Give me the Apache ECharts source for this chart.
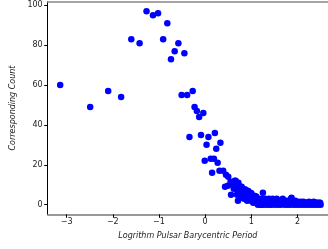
<!DOCTYPE html>
<html>
<head>
<meta charset="utf-8">
<script src="https://cdn.jsdelivr.net/npm/echarts@6/dist/echarts.min.js"></script>
<style>
  html, body { margin: 0; padding: 0; background: #fff; }
  #chart { width: 328px; height: 249px; }
</style>
</head>
<body>
<div id="chart"></div>
<script>
// log period (x) and corresponding count (y)
var logPeriod = [
  -3.14, -2.49, -2.10, -1.82, -1.60, -1.42, -1.27, -1.13, -1.02, -0.91,
  -0.82, -0.58, -0.66, -0.45, -0.74, -0.51, -0.39, -0.27, -0.23, -0.18,
  -0.04, -0.13, -0.34, -0.09, 0.07, 0.21, 0.03, 0.33, 0.24, -0.01,
  0.12, 0.19, 0.27, 0.15, 0.31, 0.39, 0.45, 0.50, 0.43, 0.49,
  0.55, 0.64, 0.72, 0.56, 0.71, 0.71, 0.69, 0.79, 0.86, 0.93,
  1.00, 1.08, 1.15,
  0.58, 0.62, 0.66, 0.68, 0.70, 0.74, 0.75, 0.77, 0.78, 0.80,
  0.81, 0.83, 0.84, 0.87, 0.88, 0.90, 0.91, 0.92, 0.94, 0.95,
  0.96, 0.98, 0.99, 1.01, 1.03, 1.04, 1.05, 1.07, 1.10, 1.11,
  1.12, 1.14, 1.17, 1.18, 1.20, 1.21, 1.23, 1.25, 1.25, 1.27,
  1.28, 1.30, 1.31, 1.33, 1.34, 1.36, 1.38, 1.39, 1.41, 1.43,
  1.44, 1.46, 1.48, 1.50, 1.51, 1.53, 1.55, 1.57, 1.58, 1.60,
  1.62, 1.64, 1.66, 1.68, 1.70, 1.72, 1.74, 1.76, 1.78, 1.80,
  1.82, 1.84, 1.86, 1.87, 1.89, 1.91, 1.93, 1.95, 1.97, 1.99,
  2.01, 2.03, 2.05, 2.07, 2.09, 2.11, 2.13, 2.15, 2.17, 2.19,
  2.21, 2.23, 2.25, 2.27, 2.29, 2.31, 2.33, 2.35, 2.37, 2.39,
  2.41, 2.43, 2.45, 2.47, 2.49, 2.50, 1.02, 1.09, 1.16, 1.22
];
var counts = [
  60, 49, 57, 54, 83, 81, 97, 95, 96, 83,
  91, 81, 77, 76, 73, 55, 55, 57, 49, 47,
  46, 44, 34, 35, 34, 36, 30, 31, 28, 22,
  23, 23, 21, 16, 17, 17, 15, 14, 9, 9.5,
  11.5, 12, 11, 5, 2, 7, 5, 9, 7.7, 6.8,
  5.7, 4.3, 2.7,
  10, 8, 12, 9, 7, 6, 8, 9, 4, 7,
  5, 6, 3, 4, 6, 5, 2, 7, 4, 5,
  3, 6, 2, 5, 3, 1, 4, 2, 1, 4,
  2, 0, 1, 2, 0, 3, 1, 6, 2, 0,
  1, 3, 2, 0, 1, 2, 3, 0, 1, 2,
  0, 3, 1, 2, 0, 1, 3, 2, 0, 1,
  2, 0, 1, 3, 2, 0, 1, 2, 0, 1,
  2, 0, 3, 3.5, 2, 0, 1, 2, 0, 1,
  1.5, 0, 1, 1.5, 0, 1, 1.5, 0, 1, 1,
  0, 1, 1.5, 0, 1, 1, 0, 1.5, 1, 0,
  1, 1, 0, 1, 1, 0, 3, 2, 1, 0
];
var xTicks = [-3, -2, -1, 0, 1, 2];
var yTicks = [0, 20, 40, 60, 80, 100];

var points = [];
for (var i = 0; i < logPeriod.length; i++) {
  points.push([logPeriod[i], counts[i]]);
}

var font = 'DejaVu Sans';
var chart = echarts.init(document.getElementById('chart'));

chart.setOption({
  animation: false,
  grid: { left: 47.7, top: 1.7, right: 0, bottom: 34.7 },
  xAxis: [{
    type: 'value',
    min: -3.41,
    max: 2.66,
    name: 'Logrithm Pulsar Barycentric Period',
    nameLocation: 'middle',
    nameGap: 18,
    nameTextStyle: { fontFamily: font, fontStyle: 'italic', fontSize: 8, color: '#222' },
    splitLine: { show: false },
    axisLine: { show: true, onZero: false, lineStyle: { color: '#777', width: 1.5 } },
    axisTick: { show: true, customValues: xTicks, length: 3.5, lineStyle: { color: '#000' } },
    axisLabel: {
      customValues: xTicks,
      fontFamily: font, fontSize: 8, color: '#222', margin: 4,
      formatter: function (v) { return String(v).replace('-', '\u2212'); }
    }
  }, {
    type: 'value',
    position: 'top',
    min: -3.41,
    max: 2.66,
    splitLine: { show: false },
    axisLine: { show: true, onZero: false, lineStyle: { color: '#888', width: 1.5 } },
    axisTick: { show: false },
    axisLabel: { show: false }
  }],
  yAxis: {
    type: 'value',
    min: -4.85,
    max: 101.85,
    name: 'Corresponding Count',
    nameLocation: 'middle',
    nameGap: 27,
    nameTextStyle: { fontFamily: font, fontStyle: 'italic', fontSize: 8, color: '#222' },
    splitLine: { show: false },
    axisLine: { show: true, onZero: false, lineStyle: { color: '#000', width: 1 } },
    axisTick: { show: true, customValues: yTicks, length: 3.5, lineStyle: { color: '#000' } },
    axisLabel: { customValues: yTicks, fontFamily: font, fontSize: 8, color: '#222', margin: 5 }
  },
  series: [{
    type: 'scatter',
    data: points,
    symbolSize: 6.5,
    itemStyle: { color: '#0000ff', opacity: 1 }
  }]
});
</script>
</body>
</html>
